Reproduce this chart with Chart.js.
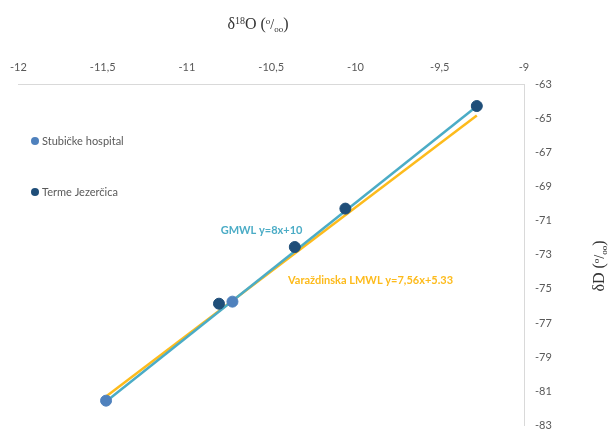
<!DOCTYPE html>
<html>
<head>
<meta charset="utf-8">
<script src="https://cdn.jsdelivr.net/npm/chart.js@4.4.0/dist/chart.umd.min.js"></script>
<style>
html, body { margin: 0; padding: 0; background: #fff; }
#wrap { width: 615px; height: 443px; }
</style>
</head>
<body>
<div id="wrap"><canvas id="c"></canvas></div>
<script>

// values
var stubickeX = [-11.48, -10.73];
var stubickeY = [-81.55, -75.75];
var termeX = [-10.81, -10.36, -10.06, -9.28];
var termeY = [-75.87, -72.55, -70.3, -64.29];
var gmwlX = [-11.48, -9.28];
var gmwlY = [-81.6, -64.3];
var lmwlX = [-11.48, -9.28];
var lmwlY = [-81.3, -64.85];

var seriesNames = ["Stubičke hospital", "Terme Jezerčica"];
var lineNames = ["GMWL y=8x+10", "Varaždinska LMWL y=7,56x+5.33"];
// where the line labels sit, in data units (left edge, middle)
var lineLabelX = [-10.8, -10.4];
var lineLabelY = [-71.6, -74.52];

var xMin = -12, xMax = -9, xStep = 0.5;
var yMin = -83, yMax = -63, yStep = 2;

// axis titles as pieces: text, size, vertical shift
var xTitle = [["δ", 16, 0], ["18", 10, -5], ["O (", 16, 0], ["o", 9, -5], ["/", 14, 0], ["oo", 9, 3], [")", 16, 0]];
var yTitle = [["δD (", 16, 0], ["o", 9, -5], ["/", 14, 0], ["oo", 9, 3], [")", 16, 0]];

var colStub = "#4f81bd";
var colTerme = "#1f4e79";
var colGmwl = "#4bacc6";
var colLmwl = "#fdbb1c";

function pts(xs, ys)
{
    var out = [];
    for (var i = 0; i < xs.length; i++) out.push({x: xs[i], y: ys[i]});
    return out;
}

function drawPieces(ctx, pieces, x, y)
{
    var w = 0;
    pieces.forEach(function(p) { ctx.font = p[1] + "px 'Liberation Serif'"; w += ctx.measureText(p[0]).width; });
    var cx = x - w / 2;
    pieces.forEach(function(p)
    {
        ctx.font = p[1] + "px 'Liberation Serif'";
        ctx.fillText(p[0], cx, y + p[2]);
        cx += ctx.measureText(p[0]).width;
    });
}

var data = {
    datasets: [
        {label: seriesNames[0], data: pts(stubickeX, stubickeY), backgroundColor: colStub, borderColor: colStub, pointRadius: 5.5, pointHoverRadius: 5.5},
        {label: seriesNames[1], data: pts(termeX, termeY), backgroundColor: colTerme, borderColor: colTerme, pointRadius: 5.5, pointHoverRadius: 5.5},
        {label: lineNames[0], data: pts(gmwlX, gmwlY), showLine: true, borderColor: colGmwl, borderWidth: 2.5, pointRadius: 0},
        {label: lineNames[1], data: pts(lmwlX, lmwlY), showLine: true, borderColor: colLmwl, borderWidth: 2.5, pointRadius: 0}
    ]
};

// legend on the left inside the plot, the line labels and both axis titles
var extras = {
    id: "extras",
    afterDraw: function(chart)
    {
        var ctx = chart.ctx;
        var xs = chart.scales.x, ys = chart.scales.y;
        ctx.save();
        ctx.textBaseline = "middle";
        ctx.textAlign = "left";

        ctx.font = "11px Lato";
        var legCols = [colStub, colTerme];
        for (var i = 0; i < seriesNames.length; i++)
        {
            var ly = 141 + i * 51;
            ctx.fillStyle = legCols[i];
            ctx.beginPath();
            ctx.arc(35, ly, 4, 0, 2 * Math.PI);
            ctx.fill();
            ctx.fillStyle = "#595959";
            ctx.fillText(seriesNames[i], 42, ly);
        }

        ctx.font = "bold 11px Lato";
        var lineCols = [colGmwl, colLmwl];
        for (var j = 0; j < lineNames.length; j++)
        {
            ctx.fillStyle = lineCols[j];
            ctx.fillText(lineNames[j], xs.getPixelForValue(lineLabelX[j]), ys.getPixelForValue(lineLabelY[j]));
        }

        ctx.fillStyle = "#333333";
        ctx.textBaseline = "alphabetic";
        drawPieces(ctx, xTitle, 258, 29);

        ctx.translate(604, 266);
        ctx.rotate(-Math.PI / 2);
        drawPieces(ctx, yTitle, 0, 0);
        ctx.restore();
    }
};

new Chart(document.getElementById("c").getContext("2d"), {
    type: "scatter",
    data: data,
    plugins: [extras],
    options: {
        responsive: true,
        maintainAspectRatio: false,
        animation: false,
        layout: {autoPadding: false, padding: {left: 18, right: 0, top: 0, bottom: 3}},
        plugins: {legend: {display: false}, tooltip: {enabled: false}},
        scales: {
            x: {
                type: "linear",
                position: "top",
                min: xMin, max: xMax,
                afterFit: function(s) { s.height = 84; },
                grid: {display: false, drawTicks: false},
                border: {display: true, color: "#d9d9d9", width: 1},
                ticks: {
                    stepSize: xStep,
                    padding: 10,
                    color: "#595959",
                    font: {family: "Lato", size: 11},
                    callback: function(v) { return String(v).replace(".", ","); }
                }
            },
            y: {
                type: "linear",
                position: "right",
                min: yMin, max: yMax,
                afterFit: function(s) { s.width = 91; },
                grid: {display: false, drawTicks: false},
                border: {display: true, color: "#d9d9d9", width: 1},
                ticks: {
                    stepSize: yStep,
                    padding: 11,
                    color: "#595959",
                    font: {family: "Lato", size: 11}
                }
            }
        }
    }
});
</script>
</body>
</html>
